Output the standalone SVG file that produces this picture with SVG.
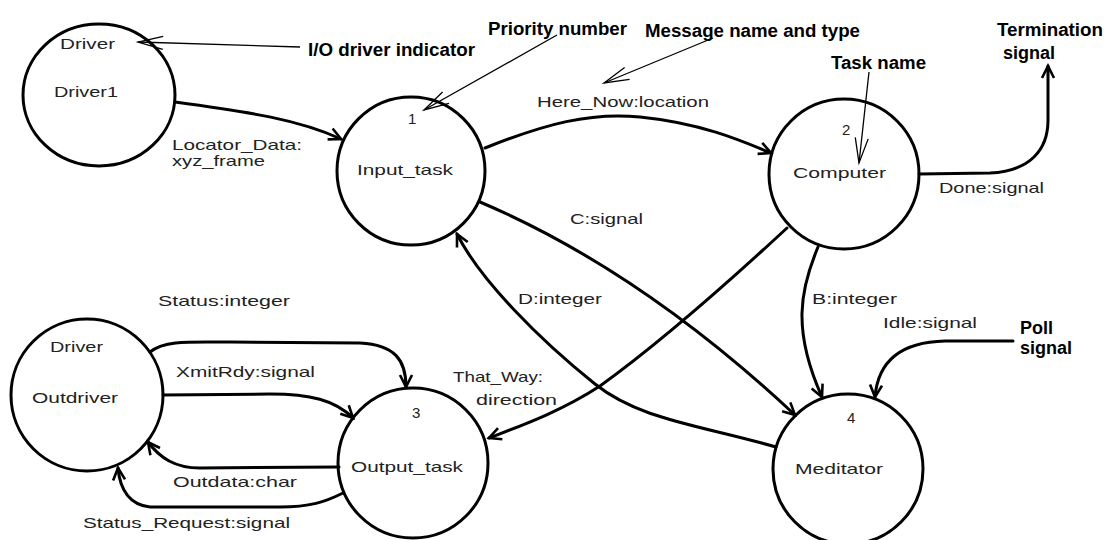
<svg xmlns="http://www.w3.org/2000/svg" width="1106" height="540" viewBox="0 0 1106 540">
<style>
.node{fill:#fff;stroke:#000;stroke-width:3}
.t{font-family:"Liberation Sans",Arial,sans-serif;font-size:15px;fill:#222}
.b{font-family:"Liberation Sans",Arial,sans-serif;font-size:18px;font-weight:bold;fill:#000}
.c{fill:none;stroke:#000;stroke-width:3;stroke-linecap:round;marker-end:url(#ah)}
.a{fill:none;stroke:#000;stroke-width:1.3;marker-end:url(#ha)}
</style>
<defs>
<marker id="ah" viewBox="0 0 14 14" refX="13" refY="7" markerWidth="14" markerHeight="14" markerUnits="userSpaceOnUse" orient="auto" overflow="visible">
<path d="M1,1 L13,7 L1,13" fill="none" stroke="#000" stroke-width="2.6"/>
</marker>
<marker id="ha" viewBox="0 0 26 14" refX="25" refY="7" markerWidth="26" markerHeight="14" markerUnits="userSpaceOnUse" orient="auto" overflow="visible">
<path d="M0,0.5 L25,7 L0,13.5" fill="none" stroke="#000" stroke-width="1.3"/>
</marker>
</defs>
<rect width="1106" height="540" fill="#fff"/>

<g id="driver1">
<ellipse class="node" cx="99" cy="95" rx="76" ry="71"/>
<text class="t" x="60" y="49" textLength="55" lengthAdjust="spacingAndGlyphs">Driver</text>
<text class="t" x="54" y="97" textLength="64" lengthAdjust="spacingAndGlyphs">Driver1</text>
</g>
<g id="input_task">
<circle class="node" cx="411" cy="171" r="74"/>
<text class="t" x="408" y="124">1</text>
<text class="t" x="357" y="175" textLength="96" lengthAdjust="spacingAndGlyphs">Input_task</text>
</g>
<g id="computer">
<circle class="node" cx="844" cy="174" r="75"/>
<text class="t" x="842" y="135">2</text>
<text class="t" x="793" y="178" textLength="93" lengthAdjust="spacingAndGlyphs">Computer</text>
</g>
<g id="outdriver">
<circle class="node" cx="87" cy="395" r="76"/>
<text class="t" x="50" y="352" textLength="53" lengthAdjust="spacingAndGlyphs">Driver</text>
<text class="t" x="32" y="403" textLength="86" lengthAdjust="spacingAndGlyphs">Outdriver</text>
</g>
<g id="output_task">
<circle class="node" cx="413" cy="463" r="75"/>
<text class="t" x="412" y="418">3</text>
<text class="t" x="351" y="472" textLength="112" lengthAdjust="spacingAndGlyphs">Output_task</text>
</g>
<g id="meditator">
<circle class="node" cx="848" cy="469" r="75"/>
<text class="t" x="847" y="423">4</text>
<text class="t" x="795" y="474" textLength="88" lengthAdjust="spacingAndGlyphs">Meditator</text>
</g>

<g id="connectors">
<path class="c" d="M175,102 C250,112 300,120 341,139"/>
<path class="c" d="M485,148 C545,124 590,112 640,117 C700,123 740,140 771,153"/>
<path class="c" d="M919,174 L990,173 C1030,171 1048,150 1048,120 L1048,66"/>
<path class="c" d="M480,202 Q640,270 795,415"/>
<path class="c" d="M776,447 C700,425 640,420 595,384 C540,340 480,280 457,234"/>
<path class="c" d="M787,228 C720,290 650,350 600,386 C560,412 520,426 489,438"/>
<path class="c" d="M818,247 C800,290 792,330 822,397"/>
<path class="c" d="M1013,341 L945,341 C900,342 878,362 875,397"/>
<path class="c" d="M150,352 C165,340 190,342 230,342 L360,343 C395,345 406,360 406,387"/>
<path class="c" d="M163,395 L270,394 C310,394 335,400 353,418"/>
<path class="c" d="M339,467 L200,468 C175,468 160,458 148,442"/>
<path class="c" d="M343,493 C325,502 310,507 280,507 L150,507 C130,505 120,490 118,468"/>
<path class="a" d="M300,47 L138,42"/>
<path class="a" d="M557,35 L424,110"/>
<path class="a" d="M713,38 L604,83"/>
<path class="a" d="M869,72 L859,163"/>
</g>

<g id="labels">
<text class="t" x="172" y="150" textLength="130" lengthAdjust="spacingAndGlyphs">Locator_Data:</text>
<text class="t" x="172" y="166" textLength="93" lengthAdjust="spacingAndGlyphs">xyz_frame</text>
<text class="t" x="537" y="107" textLength="172" lengthAdjust="spacingAndGlyphs">Here_Now:location</text>
<text class="t" x="939" y="193" textLength="105" lengthAdjust="spacingAndGlyphs">Done:signal</text>
<text class="t" x="570" y="224" textLength="73" lengthAdjust="spacingAndGlyphs">C:signal</text>
<text class="t" x="518" y="304" textLength="84" lengthAdjust="spacingAndGlyphs">D:integer</text>
<text class="t" x="812" y="304" textLength="85" lengthAdjust="spacingAndGlyphs">B:integer</text>
<text class="t" x="883" y="328" textLength="94" lengthAdjust="spacingAndGlyphs">Idle:signal</text>
<text class="t" x="158" y="306" textLength="132" lengthAdjust="spacingAndGlyphs">Status:integer</text>
<text class="t" x="176" y="377" textLength="139" lengthAdjust="spacingAndGlyphs">XmitRdy:signal</text>
<text class="t" x="173" y="487" textLength="124" lengthAdjust="spacingAndGlyphs">Outdata:char</text>
<text class="t" x="83" y="528" textLength="207" lengthAdjust="spacingAndGlyphs">Status_Request:signal</text>
<text class="t" x="453" y="382" textLength="90" lengthAdjust="spacingAndGlyphs">That_Way:</text>
<text class="t" x="476" y="405" textLength="81" lengthAdjust="spacingAndGlyphs">direction</text>
</g>

<g id="annotations">
<text class="b" x="308" y="56" textLength="167" lengthAdjust="spacingAndGlyphs">I/O driver indicator</text>
<text class="b" x="488" y="35" textLength="139" lengthAdjust="spacingAndGlyphs">Priority number</text>
<text class="b" x="645" y="37" textLength="215" lengthAdjust="spacingAndGlyphs">Message name and type</text>
<text class="b" x="831" y="69" textLength="95" lengthAdjust="spacingAndGlyphs">Task name</text>
<text class="b" x="997" y="36" textLength="106" lengthAdjust="spacingAndGlyphs">Termination</text>
<text class="b" x="1003" y="59">signal</text>
<text class="b" x="1020" y="334">Poll</text>
<text class="b" x="1020" y="354">signal</text>
</g>
</svg>
